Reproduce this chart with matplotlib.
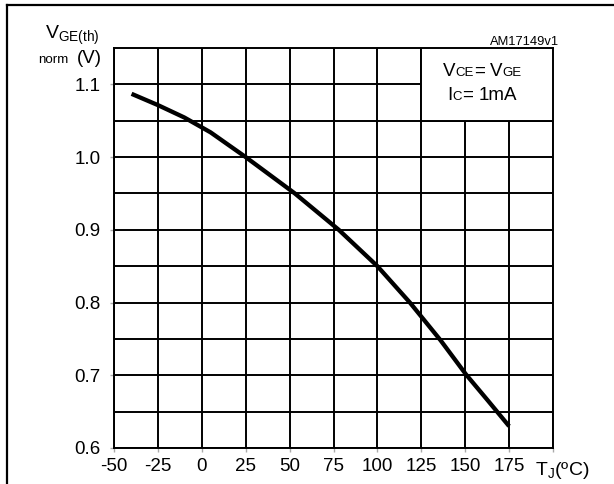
import matplotlib
matplotlib.use("Agg")
import matplotlib.pyplot as plt
from matplotlib.lines import Line2D
from matplotlib.patches import Rectangle

plt.rcParams["font.family"] = ["Liberation Sans", "DejaVu Sans"]
plt.rcParams["mathtext.fontset"] = "custom"
plt.rcParams["mathtext.rm"] = "Liberation Sans"

# data
tj = [-40, -25, -10, 5, 25, 53, 78, 100, 118.5, 136, 150.5, 163, 175]
vge_norm = [1.087, 1.0715, 1.0545, 1.034, 1.000, 0.950, 0.900, 0.850, 0.800, 0.748, 0.701, 0.665, 0.630]

x_ticks = [-50, -25, 0, 25, 50, 75, 100, 125, 150, 175, 200]
x_labels = ["-50", "-25", "0", "25", "50", "75", "100", "125", "150", "175", ""]
y_ticks = [0.6, 0.7, 0.8, 0.9, 1.0, 1.1]

W, H = 614, 484
fig = plt.figure(figsize=(W / 100, H / 100), dpi=100)
ax = fig.add_axes([114 / W, 1 - 448 / H, (553 - 114) / W, (448 - 48) / H])

ax.plot(tj, vge_norm, color="black", lw=3.1, solid_capstyle="butt",
        solid_joinstyle="round", zorder=4)

ax.set_xlim(-50, 200)
ax.set_ylim(0.6, 1.15)
ax.set_xticks(x_ticks)
ax.set_xticklabels(x_labels)
ax.set_yticks(y_ticks)
ax.set_yticklabels([f"{v:.1f}" for v in y_ticks])
ax.set_yticks([0.65, 0.75, 0.85, 0.95, 1.05], minor=True)
ax.tick_params(axis="both", which="major", direction="out", length=3, width=1,
               color="#aaaaaa", labelsize=13.5)
ax.tick_params(axis="x", pad=4)
ax.tick_params(axis="y", pad=6.5)
ax.tick_params(axis="y", which="minor", length=0)
ax.grid(True, which="both", color="black", lw=1.4, zorder=1)
ax.set_axisbelow(True)
for s in ax.spines.values():
    s.set_linewidth(1.4)

# condition box in upper right corner
ax.add_patch(Rectangle((125, 1.05), 75, 0.1, facecolor="white", edgecolor="black",
                       lw=1.4, zorder=3))

fig.text(535 / W, 1 - 475 / H, r"$\mathregular{T_J}$(ºC)", fontsize=14, ha="left",
         va="baseline")

fig.text(559 / W, 1 - 45 / H, "AM17149v1", fontsize=9.3, ha="right", va="baseline")

fig.text(45 / W, 1 - 39 / H, r"$\mathregular{V_{GE(th)}}$", fontsize=14, ha="left",
         va="baseline")
fig.text(102 / W, 1 - 63 / H, "(V)", fontsize=13.5, ha="right", va="baseline")
fig.text(68 / W, 1 - 63 / H, "norm", fontsize=9.6, ha="right", va="baseline")


def place_runs(x_px, y_px, runs):
    r = fig.canvas.get_renderer()
    for s, size, gap in runs:
        t = fig.text(x_px / W, 1 - y_px / H, s, fontsize=size, ha="left", va="baseline",
                     zorder=5)
        x_px += t.get_window_extent(renderer=r).width + gap


place_runs(443, 76, [("V", 13.5, 0), ("CE", 9.5, 0), ("=", 13.5, 5), ("V", 13.5, 0),
                     ("GE", 9.5, 0)])
place_runs(447, 100, [("I", 13.5, 0.5), ("C", 9.5, 0), ("=", 13.5, 5), ("1mA", 13.5, 0)])

# outer frame (only top and left visible)
fig.add_artist(Line2D([7 / W, 7 / W], [0, 1 - 5 / H], color="black", lw=1.6))
fig.add_artist(Line2D([7 / W, 1], [1 - 5 / H, 1 - 5 / H], color="black", lw=1.6))

fig.savefig("out.png", dpi=100)
